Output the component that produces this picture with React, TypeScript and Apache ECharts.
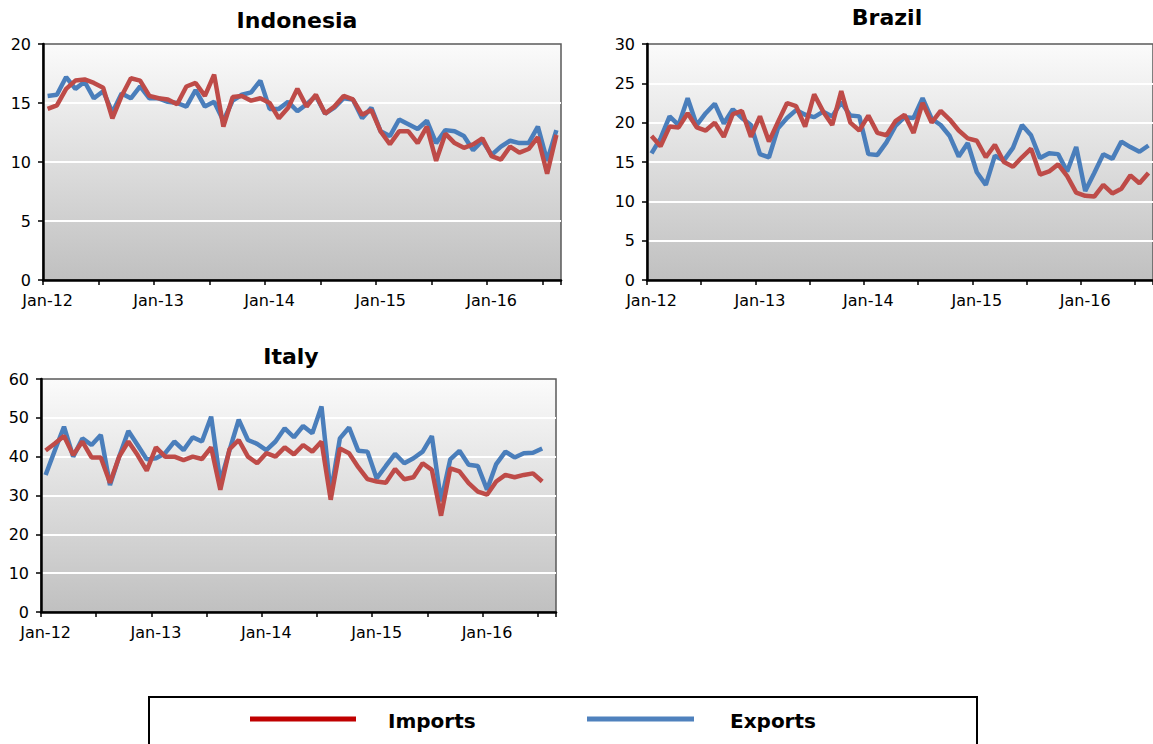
import React, { useEffect, useRef } from "react";
import * as echarts from "echarts";

const months = [
  "Jan-12","Feb-12","Mar-12","Apr-12","May-12","Jun-12","Jul-12","Aug-12","Sep-12","Oct-12","Nov-12","Dec-12",
  "Jan-13","Feb-13","Mar-13","Apr-13","May-13","Jun-13","Jul-13","Aug-13","Sep-13","Oct-13","Nov-13","Dec-13",
  "Jan-14","Feb-14","Mar-14","Apr-14","May-14","Jun-14","Jul-14","Aug-14","Sep-14","Oct-14","Nov-14","Dec-14",
  "Jan-15","Feb-15","Mar-15","Apr-15","May-15","Jun-15","Jul-15","Aug-15","Sep-15","Oct-15","Nov-15","Dec-15",
  "Jan-16","Feb-16","Mar-16","Apr-16","May-16","Jun-16","Jul-16","Aug-16",
];

const indonesiaExports = [
  15.6, 15.7, 17.2, 16.2, 16.8, 15.4, 16.0, 14.2, 15.8, 15.4,
  16.4, 15.4, 15.4, 15.1, 15.0, 14.7, 16.1, 14.7, 15.1, 13.5,
  15.2, 15.7, 15.9, 16.9, 14.5, 14.5, 15.1, 14.3, 14.9, 15.6,
  14.1, 14.6, 15.4, 15.3, 13.7, 14.6, 12.6, 12.2, 13.6, 13.2,
  12.8, 13.5, 11.6, 12.7, 12.6, 12.2, 11.0, 11.8, 10.6, 11.3,
  11.8, 11.6, 11.6, 13.0, 10.1, 12.7,
];
const indonesiaImports = [
  14.5, 14.8, 16.2, 16.9, 17.0, 16.7, 16.3, 13.7, 15.6, 17.1,
  16.9, 15.6, 15.4, 15.3, 14.9, 16.4, 16.7, 15.6, 17.4, 13.0,
  15.5, 15.6, 15.2, 15.4, 15.0, 13.7, 14.6, 16.2, 14.7, 15.7,
  14.1, 14.7, 15.6, 15.3, 14.0, 14.4, 12.6, 11.5, 12.6, 12.6,
  11.6, 13.0, 10.1, 12.4, 11.6, 11.2, 11.5, 12.0, 10.5, 10.2,
  11.3, 10.8, 11.1, 12.1, 9.0, 12.3,
];

const brazilExports = [
  16.1, 18.0, 20.8, 19.7, 23.1, 19.7, 21.2, 22.4, 19.9, 21.7,
  20.6, 19.7, 16.0, 15.6, 19.3, 20.6, 21.6, 21.0, 20.7, 21.4,
  20.8, 22.6, 20.9, 20.8, 16.0, 15.9, 17.5, 19.6, 20.7, 20.6,
  23.1, 20.5, 19.7, 18.3, 15.7, 17.4, 13.7, 12.1, 15.8, 15.2,
  16.8, 19.7, 18.4, 15.5, 16.1, 16.0, 13.8, 16.9, 11.3, 13.6,
  16.0, 15.4, 17.6, 16.9, 16.3, 17.1,
];
const brazilImports = [
  18.3, 17.0, 19.5, 19.4, 21.2, 19.4, 19.0, 20.0, 18.2, 21.1,
  21.5, 18.2, 20.8, 17.6, 20.1, 22.5, 22.1, 19.5, 23.6, 21.4,
  19.7, 24.0, 20.0, 19.0, 20.9, 18.7, 18.4, 20.2, 21.0, 18.7,
  22.5, 20.0, 21.5, 20.4, 19.0, 18.0, 17.7, 15.6, 17.2, 15.0,
  14.4, 15.6, 16.7, 13.4, 13.8, 14.7, 13.2, 11.1, 10.7, 10.6,
  12.1, 11.0, 11.6, 13.3, 12.3, 13.6,
];

const italyExports = [
  35.3, 41.6, 47.7, 40.0, 44.7, 43.0, 45.6, 32.7, 40.0, 46.6,
  43.0, 39.3, 39.6, 40.9, 43.9, 41.7, 45.0, 43.9, 50.3, 33.5,
  41.7, 49.5, 44.3, 43.3, 41.7, 43.9, 47.3, 45.0, 47.9, 46.0,
  52.9, 30.5, 44.7, 47.5, 41.5, 41.3, 34.4, 37.6, 40.7, 38.3,
  39.6, 41.3, 45.3, 28.5, 39.3, 41.5, 37.9, 37.6, 31.5, 38.1,
  41.3, 39.8, 40.9, 41.0, 42.1, null,
];
const italyImports = [
  41.6, 43.4, 45.3, 40.4, 43.9, 39.8, 39.8, 33.3, 40.0, 43.9,
  40.4, 36.4, 42.4, 40.0, 40.0, 39.1, 40.0, 39.4, 42.4, 31.5,
  41.9, 44.3, 40.0, 38.3, 40.9, 40.0, 42.4, 40.6, 43.0, 41.3,
  43.9, 28.9, 42.1, 40.9, 37.3, 34.2, 33.6, 33.3, 36.8, 34.2,
  34.7, 38.3, 36.6, 24.8, 37.0, 36.2, 33.2, 31.0, 30.2, 33.6,
  35.3, 34.7, 35.3, 35.7, 33.6, null,
];

const panels = [
  { title: "Indonesia", exports: indonesiaExports, imports: indonesiaImports, max: 20, step: 5 },
  { title: "Brazil", exports: brazilExports, imports: brazilImports, max: 30, step: 5 },
  { title: "Italy", exports: italyExports, imports: italyImports, max: 60, step: 10 },
];

const layout = [
  { left: 43, top: 44, width: 518, height: 236, titleX: 297, titleY: 20 },
  { left: 647, top: 44, width: 511, height: 236, titleX: 887, titleY: 17 },
  { left: 41, top: 379, width: 515, height: 233, titleX: 291, titleY: 356 },
];

const EXPORT_COLOR = "#4a7ebb";
const IMPORT_COLOR = "#be4b48";
const FONT = "DejaVu Sans";

export default function App() {
  const ref = useRef<HTMLDivElement>(null);

  useEffect(() => {
    if (!ref.current) return;
    const chart = echarts.init(ref.current, null, { renderer: "svg" });

    const bg = () =>
      new echarts.graphic.LinearGradient(0, 0, 0, 1, [
        { offset: 0, color: "#fbfbfb" },
        { offset: 1, color: "#c0c0c0" },
      ]);

    const grid = layout.map((l) => ({
      left: l.left,
      top: l.top,
      width: l.width,
      height: l.height,
      show: true,
      backgroundColor: bg(),
      borderColor: "#595959",
      borderWidth: 1.5,
      containLabel: false,
    }));

    const xAxis = panels.map((_, i) => ({
      type: "category",
      gridIndex: i,
      data: months,
      boundaryGap: true,
      axisLine: { show: true, onZero: false, lineStyle: { color: "#000", width: 2.5 } },
      axisTick: { show: true, interval: 5, length: 5, lineStyle: { color: "#000", width: 1.5 } },
      axisLabel: { interval: 11, color: "#000", fontFamily: FONT, fontSize: 16, margin: 12 },
      splitLine: { show: false },
    }));

    const yAxis = panels.map((p, i) => ({
      type: "value",
      gridIndex: i,
      min: 0,
      max: p.max,
      interval: p.step,
      axisLine: { show: true, lineStyle: { color: "#000", width: 2.5 } },
      axisTick: { show: true, length: 5, lineStyle: { color: "#000", width: 1.5 } },
      axisLabel: { color: "#000", fontFamily: FONT, fontSize: 16, margin: 12 },
      splitLine: {
        show: true,
        showMinLine: false,
        showMaxLine: false,
        lineStyle: { color: "#ffffff", width: 2 },
      },
    }));

    const series: any[] = [];
    panels.forEach((p, i) => {
      series.push({
        name: "Exports",
        type: "line",
        xAxisIndex: i,
        yAxisIndex: i,
        data: p.exports,
        symbol: "none",
        showSymbol: false,
        lineStyle: { color: EXPORT_COLOR, width: 4.5 },
        itemStyle: { color: EXPORT_COLOR },
      });
      series.push({
        name: "Imports",
        type: "line",
        xAxisIndex: i,
        yAxisIndex: i,
        data: p.imports,
        symbol: "none",
        showSymbol: false,
        lineStyle: { color: IMPORT_COLOR, width: 4.5 },
        itemStyle: { color: IMPORT_COLOR },
      });
    });

    const titles = panels.map((p, i) => ({
      type: "text",
      x: layout[i].titleX,
      y: layout[i].titleY,
      style: {
        text: p.title,
        fill: "#000",
        font: `bold 22px "${FONT}"`,
        textAlign: "center",
        textVerticalAlign: "middle",
      },
    }));

    const legend = [
      {
        type: "rect",
        shape: { x: 149, y: 697, width: 828, height: 60 },
        style: { fill: "#fff", stroke: "#000", lineWidth: 2 },
      },
      {
        type: "line",
        shape: { x1: 250, y1: 719, x2: 356, y2: 719 },
        style: { stroke: "#c00000", lineWidth: 5 },
      },
      {
        type: "text",
        x: 388,
        y: 721,
        style: { text: "Imports", fill: "#000", font: `bold 20px "${FONT}"`, textVerticalAlign: "middle" },
      },
      {
        type: "line",
        shape: { x1: 587, y1: 719, x2: 694, y2: 719 },
        style: { stroke: "#4f81bd", lineWidth: 5 },
      },
      {
        type: "text",
        x: 730,
        y: 721,
        style: { text: "Exports", fill: "#000", font: `bold 20px "${FONT}"`, textVerticalAlign: "middle" },
      },
    ];

    chart.setOption({
      animation: false,
      backgroundColor: "#ffffff",
      grid,
      xAxis,
      yAxis,
      series,
      graphic: [...titles, ...legend],
    });

    return () => chart.dispose();
  }, []);

  return (
    <div
      ref={ref}
      style={{ position: "absolute", left: 0, top: 0, width: 1153, height: 744, overflow: "hidden" }}
    />
  );
}
